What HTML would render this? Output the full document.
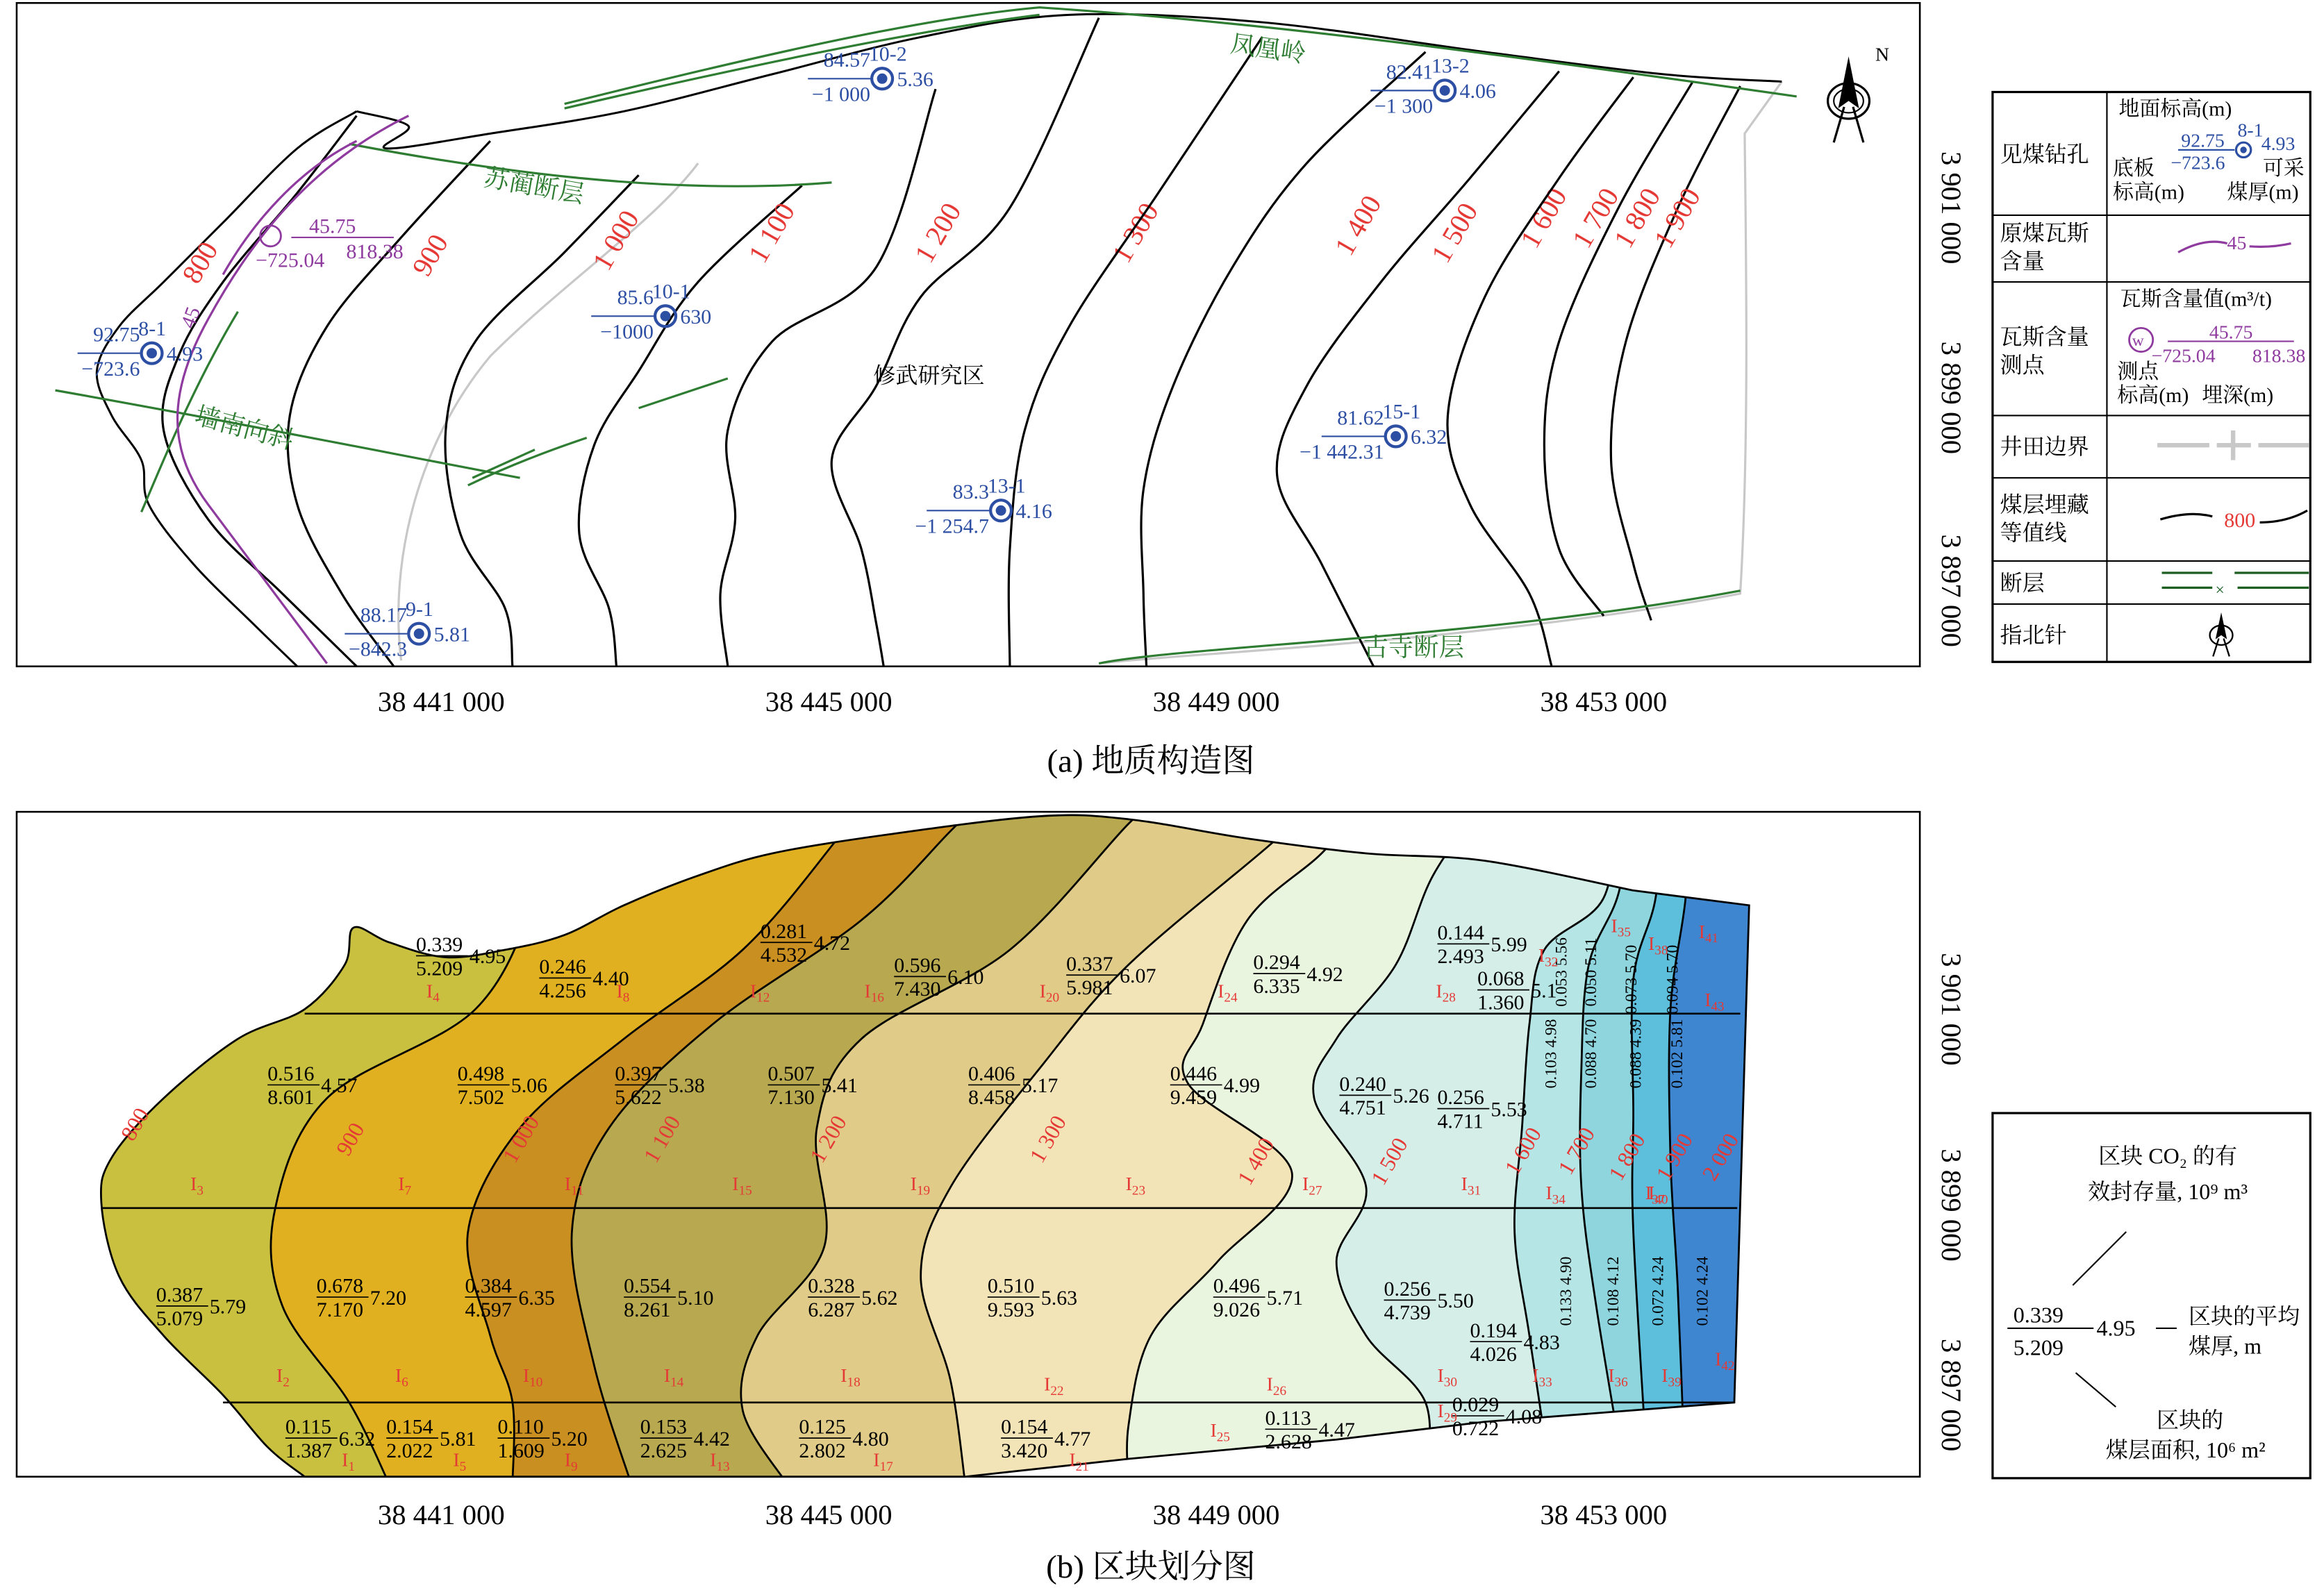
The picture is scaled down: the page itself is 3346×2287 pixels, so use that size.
<!DOCTYPE html>
<html><head><meta charset="utf-8">
<style>
html,body{margin:0;padding:0;background:#fff;}
svg{display:block;}
text{font-family:"Liberation Serif","Noto Serif CJK SC",serif;}
</style></head>
<body>
<svg id="fig" width="3346" height="2287" viewBox="0 0 1565 1070" xmlns="http://www.w3.org/2000/svg">
<defs>
<clipPath id="clipB"><path id="outlineClip" d=""/></clipPath>
</defs>
<!-- Panel A -->
<g id="panelA">
<rect x="11" y="2" width="1282" height="447" fill="#fff" stroke="#000" stroke-width="1.2"/>
<g id="aGray" fill="none" stroke="#c8c8c8" stroke-width="1.5">
<path d="M270,445 C262,380 280,300 330,240 C380,190 440,150 470,110"/>
<path d="M740,447 C800,440 1000,432 1172,400 C1178,300 1176,180 1175,90 L1200,55"/>
</g>
<g id="aContours"></g>
<g id="aFaults" fill="none" stroke="#2e7d32" stroke-width="1.5">
<path d="M380,70 C500,40 620,12 700,5 C850,15 1000,35 1210,65"/>
<path d="M380,73 C500,45 620,20 700,10"/>
<path d="M235,97 C330,115 450,132 560,123"/>
<path d="M37,263 C150,283 250,303 350,322"/>
<path d="M95,345 C110,310 130,260 160,210"/>
<path d="M315,327 C340,315 365,305 395,295"/>
<path d="M318,322 L360,303"/>
<path d="M430,275 L490,255"/>
<path d="M740,447 C800,435 1000,430 1172,398"/>
</g>
<g fill="none" stroke="#8e3a9e" stroke-width="1.5">
<path d="M275,78 C210,110 170,160 140,215 C115,260 110,300 140,340 C170,380 200,420 220,447"/>
<path d="M240,95 C200,115 170,150 150,185"/>
</g>
<text x="130" y="222" fill="#8e3a9e" font-size="14" transform="rotate(-70 130 222)">45</text>
<text x="325" y="125" fill="#2e7d32" font-size="17" transform="rotate(10 325 125)">苏蔺断层</text>
<text x="828" y="35" fill="#2e7d32" font-size="17" transform="rotate(8 828 35)">凤凰岭</text>
<text x="130" y="285" fill="#2e7d32" font-size="17" transform="rotate(15 130 285)">墙南向斜</text>
<text x="918" y="442" fill="#2e7d32" font-size="17">古寺断层</text>
<text x="588" y="258" font-size="15" fill="#000">修武研究区</text>
<g id="aWells"></g>
<g>
<circle cx="182" cy="159" r="7" fill="none" stroke="#8e3a9e" stroke-width="1.3"/>
<text x="208" y="157" fill="#8e3a9e" font-size="14">45.75</text>
<line x1="196" y1="160" x2="265" y2="160" stroke="#8e3a9e"/>
<text x="172" y="180" fill="#8e3a9e" font-size="14">−725.04</text>
<text x="233" y="174" fill="#8e3a9e" font-size="14">818.38</text>
</g>
<g transform="translate(1245,68)">
<ellipse cx="0" cy="0" rx="14" ry="12" fill="none" stroke="#000" stroke-width="1.5"/>
<ellipse cx="0" cy="0" rx="10" ry="8" fill="none" stroke="#000" stroke-width="1"/>
<polygon points="0,-30 -7,5 0,0 7,5" fill="#000"/>
<line x1="-3" y1="4" x2="-10" y2="28" stroke="#000" stroke-width="1.5"/>
<line x1="3" y1="4" x2="10" y2="28" stroke="#000" stroke-width="1.5"/>
<text x="18" y="-27" font-size="13">N</text>
</g>
<g font-size="19" fill="#000" text-anchor="middle">
<text x="297" y="479">38 441 000</text><text x="558" y="479">38 445 000</text><text x="819" y="479">38 449 000</text><text x="1080" y="479">38 453 000</text>
</g>
<g font-size="19" fill="#000" text-anchor="middle">
<text transform="translate(1308,140) rotate(90)">3 901 000</text>
<text transform="translate(1308,268) rotate(90)">3 899 000</text>
<text transform="translate(1308,398) rotate(90)">3 897 000</text>
</g>
<text x="775" y="520" text-anchor="middle" font-size="22">(a) 地质构造图</text>
</g>

<!-- Legend A -->
<g font-size="15">
<rect x="1342" y="62" width="214" height="384" fill="#fff" stroke="#000" stroke-width="1.5"/>
<line x1="1419" y1="62" x2="1419" y2="446" stroke="#000"/>
<g stroke="#000"><line x1="1342" y1="145" x2="1556" y2="145"/><line x1="1342" y1="190" x2="1556" y2="190"/><line x1="1342" y1="280" x2="1556" y2="280"/><line x1="1342" y1="322" x2="1556" y2="322"/><line x1="1342" y1="378" x2="1556" y2="378"/><line x1="1342" y1="407" x2="1556" y2="407"/></g>
<text x="1347" y="109">见煤钻孔</text>
<text x="1347" y="162">原煤瓦斯</text><text x="1347" y="181">含量</text>
<text x="1347" y="232">瓦斯含量</text><text x="1347" y="251">测点</text>
<text x="1347" y="306">井田边界</text>
<text x="1347" y="345">煤层埋藏</text><text x="1347" y="364">等值线</text>
<text x="1347" y="398">断层</text>
<text x="1347" y="433">指北针</text>
<text x="1427" y="78" font-size="14">地面标高(m)</text>
<text x="1469" y="99" font-size="13" fill="#2d4fa3">92.75</text><text x="1507" y="92" font-size="13" fill="#2d4fa3">8-1</text><text x="1523" y="101" font-size="13" fill="#2d4fa3">4.93</text>
<line x1="1467" y1="101" x2="1505" y2="101" stroke="#2d4fa3"/>
<circle cx="1511" cy="101" r="5" fill="none" stroke="#2d4fa3" stroke-width="1.5"/><circle cx="1511" cy="101" r="2.2" fill="#2d4fa3"/>
<text x="1462" y="114" font-size="13" fill="#2d4fa3">−723.6</text>
<text x="1423" y="118" font-size="14">底板</text><text x="1423" y="134" font-size="14">标高(m)</text>
<text x="1524" y="118" font-size="14">可采</text><text x="1500" y="134" font-size="14">煤厚(m)</text>
<path d="M1467,170 Q1485,160 1500,164" fill="none" stroke="#8e3a9e" stroke-width="1.5"/><text x="1500" y="168" font-size="13" fill="#8e3a9e">45</text><path d="M1515,166 Q1530,167 1543,164" fill="none" stroke="#8e3a9e" stroke-width="1.5"/>
<text x="1428" y="206" font-size="14">瓦斯含量值(m³/t)</text>
<circle cx="1442" cy="229" r="8" fill="none" stroke="#8e3a9e" stroke-width="1.3"/><text x="1436" y="233" font-size="11" fill="#8e3a9e">w</text>
<text x="1488" y="228" font-size="13" fill="#8e3a9e">45.75</text>
<line x1="1460" y1="230" x2="1545" y2="230" stroke="#8e3a9e"/>
<text x="1449" y="244" font-size="13" fill="#8e3a9e">−725.04</text><text x="1517" y="244" font-size="13" fill="#8e3a9e">818.38</text>
<text x="1426" y="255" font-size="14">测点</text><text x="1426" y="271" font-size="14">标高(m)</text><text x="1483" y="271" font-size="14">埋深(m)</text>
<g stroke="#c8c8c8" stroke-width="3"><line x1="1453" y1="300" x2="1488" y2="300"/><line x1="1493" y1="300" x2="1516" y2="300"/><line x1="1504" y1="290" x2="1504" y2="310"/><line x1="1521" y1="300" x2="1555" y2="300"/></g>
<path d="M1455,350 Q1475,344 1490,348" fill="none" stroke="#000" stroke-width="1.5"/><text x="1498" y="355" font-size="14" fill="#e53935">800</text><path d="M1522,352 Q1540,352 1554,344" fill="none" stroke="#000" stroke-width="1.5"/>
<g stroke="#1b5e20" stroke-width="1.5"><line x1="1456" y1="386" x2="1490" y2="386"/><line x1="1456" y1="396" x2="1490" y2="396"/><line x1="1505" y1="386" x2="1555" y2="386"/><line x1="1507" y1="396" x2="1555" y2="396"/></g>
<text x="1492" y="401" font-size="11" fill="#1b5e20">×</text>
<g transform="translate(1496,428) scale(0.55)"><ellipse cx="0" cy="0" rx="14" ry="12" fill="none" stroke="#000" stroke-width="2"/><polygon points="0,-28 -7,5 0,0 7,5" fill="#000"/><line x1="-3" y1="4" x2="-10" y2="26" stroke="#000" stroke-width="2"/><line x1="3" y1="4" x2="10" y2="26" stroke="#000" stroke-width="2"/></g>
</g>

<!-- Panel B -->
<g id="panelB">
<rect x="11" y="547" width="1282" height="448" fill="#fff" stroke="#000" stroke-width="1.2"/>
<g id="bands" clip-path="url(#clipB)"></g>
<path id="outlineB" fill="none" stroke="#000" stroke-width="1.3"/>
<g stroke="#000" stroke-width="1.2">
<line x1="205" y1="683" x2="1172" y2="683"/><line x1="68" y1="814" x2="1170" y2="814"/><line x1="150" y1="945" x2="1168" y2="945"/>
</g>
<g id="bContourLabels" font-size="15" fill="#e53935"></g>
<g id="blocks" font-size="14" fill="#000"></g>
<g id="blockIds" font-size="13" fill="#e53935"></g>
<g font-size="19" fill="#000" text-anchor="middle">
<text x="297" y="1027">38 441 000</text><text x="558" y="1027">38 445 000</text><text x="819" y="1027">38 449 000</text><text x="1080" y="1027">38 453 000</text>
</g>
<g font-size="19" fill="#000" text-anchor="middle">
<text transform="translate(1308,680) rotate(90)">3 901 000</text>
<text transform="translate(1308,812) rotate(90)">3 899 000</text>
<text transform="translate(1308,940) rotate(90)">3 897 000</text>
</g>
<text x="775" y="1063" text-anchor="middle" font-size="22">(b) 区块划分图</text>
</g>

<!-- Legend B -->
<g font-size="15">
<rect x="1342" y="750" width="214" height="246" fill="#fff" stroke="#000" stroke-width="1.5"/>
<text x="1460" y="784" text-anchor="middle">区块 CO₂ 的有</text>
<text x="1460" y="808" text-anchor="middle">效封存量, 10⁹ m³</text>
<line x1="1396" y1="866" x2="1432" y2="830" stroke="#000"/>
<text x="1356" y="891">0.339</text><line x1="1352" y1="895" x2="1410" y2="895" stroke="#000"/><text x="1356" y="913">5.209</text>
<text x="1412" y="900">4.95</text><line x1="1452" y1="895" x2="1466" y2="895" stroke="#000"/>
<text x="1474" y="892">区块的平均</text><text x="1474" y="912">煤厚, m</text>
<line x1="1398" y1="925" x2="1425" y2="948" stroke="#000"/>
<text x="1475" y="962" text-anchor="middle">区块的</text>
<text x="1472" y="982" text-anchor="middle">煤层面积, 10⁶ m²</text>
</g>
</svg>
<script>
const NS="http://www.w3.org/2000/svg";
function mk(tag,attrs,parent){const e=document.createElementNS(NS,tag);for(const k in attrs)e.setAttribute(k,attrs[k]);parent.appendChild(e);return e;}
// Catmull-Rom smoothing; returns segment string (without leading M when cont=true)
function smooth(p,cont){
  let d=(cont?'L':'M')+p[0][0]+','+p[0][1];
  for(let i=0;i<p.length-1;i++){
    const p0=p[i-1]||p[i],p1=p[i],p2=p[i+1],p3=p[i+2]||p2;
    const c1=[p1[0]+(p2[0]-p0[0])/6,p1[1]+(p2[1]-p0[1])/6];
    const c2=[p2[0]-(p3[0]-p1[0])/6,p2[1]-(p3[1]-p1[1])/6];
    d+=` C${c1[0].toFixed(1)},${c1[1].toFixed(1)} ${c2[0].toFixed(1)},${c2[1].toFixed(1)} ${p2[0]},${p2[1]}`;
  }
  return d;
}

// Panel A contours
const aContourLevels=["800","900","1 000","1 100","1 200","1 300","1 400","1 500","1 600","1 700","1 800","1 900"];
const aContourLines=[
[[240,78],[200,130],[150,190],[120,240],[110,290],[140,350],[190,400],[240,449]],
[[330,95],[270,160],[220,220],[195,280],[200,340],[230,400],[265,449]],
[[430,118],[380,170],[320,230],[300,290],[310,360],[340,410],[345,449]],
[[540,125],[470,190],[430,250],[400,300],[390,360],[410,410],[415,449]],
[[630,60],[590,180],[520,230],[490,290],[495,350],[485,400],[490,449]],
[[740,12],[680,140],[620,200],[590,260],[560,310],[580,370],[590,420],[595,449]],
[[850,25],[780,130],[720,220],[690,290],[680,370],[680,449]],
[[960,35],[880,110],[830,180],[790,260],[770,330],[770,400],[772,449]],
[[1050,48],[990,120],[930,190],[880,260],[860,320],[890,380],[925,449]],
[[1100,52],[1050,120],[1000,200],[975,280],[990,340],[1030,400],[1045,449]],
[[1140,55],[1090,140],[1050,230],[1040,300],[1050,370],[1080,415]],
[[1172,58],[1130,140],[1095,230],[1085,310],[1100,380],[1112,418]]
];
const aLabelPos=[[140,180],[295,175],[420,165],[525,160],[637,160],[770,160],[920,155],[985,160],[1045,150],[1080,150],[1108,150],[1135,150]];
const gA=document.getElementById('aContours');
const outlineA=[[240,75],[275,85],[260,100],[330,90],[420,75],[520,50],[620,25],[720,10],[850,15],[1000,35],[1120,50],[1200,55]];
let oa=mk('path',{d:smooth(outlineA),fill:'none',stroke:'#000','stroke-width':1.4},gA);


const outlineAL=[[240,75],[200,100],[150,150],[110,190],[80,220],[65,250],[75,280],[95,310],[100,340],[130,380],[170,420],[200,449]];
let oal=mk('path',{d:smooth(outlineAL),fill:'none',stroke:'#000','stroke-width':1.4},gA);


aContourLines.forEach((c,i)=>{
  const l=mk('path',{d:smooth(c),fill:'none',stroke:'#000','stroke-width':1.5},gA);
  
  
  const p=aLabelPos[i];
  const t=mk('text',{x:p[0],y:p[1],fill:'#e53935','font-size':19,'text-anchor':'middle',transform:`rotate(-60 ${p[0]} ${p[1]})`},gA);
  t.textContent=aContourLevels[i];
  
  
});
// Wells
const wellIds=["10-2","13-2","8-1","10-1","15-1","13-1","9-1"];
const wellTop=["84.57","82.41","92.75","85.6","81.62","83.3","88.17"];
const wellBottom=["−1 000","−1 300","−723.6","−1000","−1 442.31","−1 254.7","−842.3"];
const wellThick=["5.36","4.06","4.93","630","6.32","4.16","5.81"];
const wellPos=[[594,53],[973,61],[102,238],[448,213],[940,294],[674,344],[282,427]];
const gW=document.getElementById('aWells');
wellIds.forEach((id,i)=>{
  const [x,y]=wellPos[i];const g=mk('g',{fill:'#2d4fa3','font-size':14},gW);
  
  
  mk('circle',{cx:x,cy:y,r:7,fill:'none',stroke:'#2d4fa3','stroke-width':2},g);
  mk('circle',{cx:x,cy:y,r:3.5,fill:'#2d4fa3'},g);
  mk('line',{x1:x-50,y1:y,x2:x-7,y2:y,stroke:'#2d4fa3'},g);
  let t=mk('text',{x:x-8,y:y-8,'text-anchor':'end'},g);t.textContent=wellTop[i];
  t=mk('text',{x:x-8,y:y+15,'text-anchor':'end'},g);t.textContent=wellBottom[i];
  t=mk('text',{x:x-9,y:y-12},g);t.textContent=id;
  t=mk('text',{x:x+10,y:y+5},g);t.textContent=wellThick[i];
});

// Panel B
const outlineB=[[205,995],[180,975],[150,940],[110,900],[80,860],[68,810],[75,780],[110,740],[160,700],[205,680],[232,650],[238,625],[262,635],[300,645],[340,640],[380,630],[420,610],[470,590],[520,575],[600,562],[700,550],[760,552],[840,565],[920,575],[1000,580],[1100,600],[1178,610],[1168,945],[1000,958],[900,970],[760,983],[650,995]];
const outD=smooth(outlineB.slice(0,26))+' L1100,600 L1178,610 L1168,945 L1000,958 L900,970 L760,983 L650,995 Z';
document.getElementById('outlineClip').setAttribute('d',outD);
document.getElementById('outlineB').setAttribute('d',outD);
const bLevels=["900","1 000","1 100","1 200","1 300","1 400","1 500","1 600","1 700","1 800","1 900"];
const bContours=[
[[360,540],[360,600],[320,680],[220,740],[185,815],[190,880],[235,945],[262,1000]],
[[580,540],[560,570],[500,640],[420,700],[350,760],[315,830],[330,900],[345,945],[345,1000]],
[[660,540],[640,560],[580,620],[480,690],[410,760],[385,830],[400,920],[425,1000]],
[[780,540],[760,555],[680,640],[580,700],[550,760],[555,840],[510,900],[500,950],[530,1000]],
[[880,540],[860,565],[760,650],[700,720],[640,800],[620,860],[640,930],[650,1000]],
[[920,540],[890,575],[840,620],[810,690],[800,730],[870,790],[820,850],[775,900],[760,960],[760,1000]],
[[1000,540],[965,590],[940,650],[900,700],[885,740],[920,800],[900,850],[920,900],[960,945],[960,1000]],
[[1090,540],[1080,605],[1040,640],[1030,690],[1025,760],[1020,830],[1030,900],[1045,1000]],
[[1100,540],[1090,602],[1070,650],[1065,720],[1065,800],[1075,880],[1095,1000]],
[[1120,540],[1115,605],[1100,660],[1100,750],[1100,830],[1110,1000]],
[[1140,540],[1135,607],[1125,680],[1125,780],[1130,870],[1135,1000]]
];
const bandColors=["#c9c040","#e0b020","#c98f20","#b8a850","#e0cc88","#f3e4b8","#eaf5e0","#d5efe8","#b5e5e5","#8fd5dd","#5ebfdc","#3f86d0"];
const gB=document.getElementById('bands');
const leftEdge=[[0,540],[0,1000]], rightEdge=[[1300,540],[1300,1000]];
const lines=[leftEdge,...bContours,rightEdge];
for(let i=0;i<lines.length-1;i++){
  const a=lines[i],b=lines[i+1];
  const d=smooth(a)+' '+smooth(b.slice().reverse(),true)+' Z';
  const poly=mk('path',{d:d,fill:bandColors[i],stroke:'none'},gB);
  
  
}
bContours.forEach((c,i)=>{
  const l=mk('path',{d:smooth(c),fill:'none',stroke:'#000','stroke-width':1.3},gB);
  
  
});
const bLabelPos=[[95,760],[240,770],[355,770],[450,770],[562,770],[710,770],[850,785],[940,785],[1030,778],[1066,778],[1100,782],[1132,782],[1163,782]];
const bLabelText=["800",...bLevels,"2 000"];
const gL=document.getElementById('bContourLabels');
bLabelText.forEach((s,i)=>{const [x,y]=bLabelPos[i];const t=mk('text',{x:x,y:y,'text-anchor':'middle',transform:`rotate(-60 ${x} ${y})`},gL);t.textContent=s;});

const blockPos=[[280,641],[363,656],[512,632],[602,655],[718,654],[844,653],[968,633],[995,664],[180,728],[308,728],[414,728],[517,728],[652,728],[788,728],[902,735],[968,744],[105,877],[213,871],[313,871],[420,871],[544,871],[665,871],[817,871],[932,873],[990,901],[192,966],[260,966],[335,966],[431,966],[538,966],[674,966],[852,960],[978,951]];
const blockCO2=["0.339","0.246","0.281","0.596","0.337","0.294","0.144","0.068","0.516","0.498","0.397","0.507","0.406","0.446","0.240","0.256","0.387","0.678","0.384","0.554","0.328","0.510","0.496","0.256","0.194","0.115","0.154","0.110","0.153","0.125","0.154","0.113","0.029"];
const blockArea=["5.209","4.256","4.532","7.430","5.981","6.335","2.493","1.360","8.601","7.502","5.622","7.130","8.458","9.459","4.751","4.711","5.079","7.170","4.597","8.261","6.287","9.593","9.026","4.739","4.026","1.387","2.022","1.609","2.625","2.802","3.420","2.628","0.722"];
const blockThick=["4.95","4.40","4.72","6.10","6.07","4.92","5.99","5.1","4.57","5.06","5.38","5.41","5.17","4.99","5.26","5.53","5.79","7.20","6.35","5.10","5.62","5.63","5.71","5.50","4.83","6.32","5.81","5.20","4.42","4.80","4.77","4.47","4.08"];
const gBl=document.getElementById('blocks');
blockPos.forEach((p,i)=>{
  const [x,y]=p;const g=mk('g',{},gBl);
  
  
  let t=mk('text',{x:x,y:y},g);t.textContent=blockCO2[i];
  mk('line',{x1:x,y1:y+3,x2:x+35,y2:y+3,stroke:'#000','stroke-width':0.8},g);
  t=mk('text',{x:x,y:y+16},g);t.textContent=blockArea[i];
  t=mk('text',{x:x+36,y:y+8},g);t.textContent=blockThick[i];
});
const rotPos=[[1048,710],[1075,710],[1105,710],[1133,710],[1058,870],[1090,870],[1120,870],[1150,870],[1055,655],[1075,655],[1102,660],[1130,660]];
const rotText=["0.103 4.98","0.088 4.70","0.088 4.39","0.102 5.81","0.133 4.90","0.108 4.12","0.072 4.24","0.102 4.24","0.053 5.56","0.050 5.11","0.073 5.70","0.094 5.70"];
rotPos.forEach((p,i)=>{const t=mk('text',{x:p[0],y:p[1],'font-size':11,transform:`rotate(-90 ${p[0]} ${p[1]})`,'text-anchor':'middle'},gBl);t.textContent=rotText[i];});

const idPos=[[230,988],[186,931],[128,802],[287,672],[305,988],[266,931],[268,802],[415,672],[380,988],[352,931],[380,802],[505,672],[478,988],[447,931],[493,802],[582,672],[588,988],[566,931],[613,802],[700,672],[720,988],[703,937],[758,802],[820,672],[815,968],[853,937],[877,802],[967,672],[968,955],[968,931],[984,802],[1036,648],[1032,931],[1041,808],[1085,628],[1083,931],[1108,808],[1110,640],[1119,931],[1110,808],[1144,632],[1155,920],[1148,678]];
const gId=document.getElementById('blockIds');
idPos.forEach((p,i)=>{
  const t=mk('text',{x:p[0],y:p[1]},gId);
  t.appendChild(document.createTextNode('I'));
  const s=mk('tspan',{'font-size':9,dy:3},t);s.textContent=String(i+1);
});
</script>
</body></html>
